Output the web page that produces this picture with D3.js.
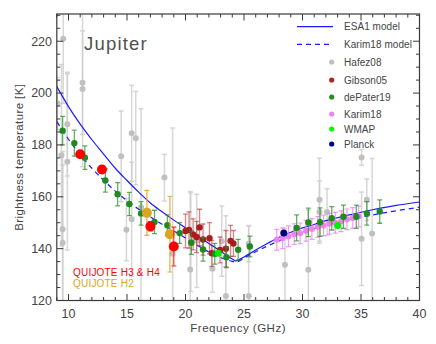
<!DOCTYPE html>
<html><head><meta charset="utf-8">
<script src="https://cdn.jsdelivr.net/npm/d3@7"></script>
<style>
body{margin:0;background:#fff}
svg{display:block}
text{font-family:"Liberation Sans",Arial,sans-serif;fill:#444}
</style>
</head><body>
<svg id="c" width="436" height="344"></svg>
<script>
// ---------- data ----------
const xTicks = [10, 15, 20, 25, 30, 35, 40];
const yTicks = [120, 140, 160, 180, 200, 220];

const modelFreq    = [9,10,11,12,13,14,15,16,17,18,19,20,21,22,23,24,24.3,25,26,27,28,29,30,31,32,34,36,38,40];
const esa1Model    = [202.5,194.8,188,182,176.5,171,166.3,161.8,157.6,154.2,151,148,145,142,139,136,135.3,136.8,139.5,142,144.4,146.3,148,149.3,150.8,153,155,156.7,158];
const karim18Model = [189,182.2,176.2,171,166.4,162.2,158.5,155.2,152.2,149.4,146.8,144.1,141.3,138.7,136.6,135.1,134.8,136.3,138.8,141,143,144.8,146.3,147.7,149,151.2,153,154.6,156];

const hafezFreq = [9.05,9.55,9.4,9.5,9.5,9.9,9.9,11.2,11.2,14.5,14.95,15.4,15.4,15.75,16.2,18.2,18.9,20.4,20.45,20.96,22.3,23.1,23.45,25.4,25.4,28.5,30.5,31.45,31.45,32.1,35.05,35.05,35.5,35.95];
const hafezT    = [196,221,176,147.5,142.3,188,173.5,204,201.6,175.6,147.3,184.5,151.3,182.6,156,167.4,138,132,142.5,143,132.2,142.9,121.7,141.9,121.7,133.8,131.9,158.9,154.1,154.1,175.2,143.8,158.9,145.8];
const hafezErr  = [10,25,35,30,30,20,34,20,30,17.5,12,18.5,22,18,38,9,48.5,30,19,18,9,13.5,31,7,27,14,23,16,12,9,3,18,8,29];

const gibsonFreq = [20.0,20.3,20.65,20.95,21.2,21.5,22.05,22.25,22.95,23.45,23.85,24.1];
const gibsonT    = [146.8,147.2,145.5,144.5,148.2,143.5,144,138.2,139.5,140,143,142];
const gibsonErr  = [6.5,7,6,6,7,6,6,5,5,7,6,5];

const dePaterFreq = [9.5,10.5,11.4,13.15,14.2,15.2,16.2,17.35,18.45,19.5,20.5,21.5,22.5,23.5,24.5,25.5,29.5,30.5,31.5,32.5,33.5,34.6,35.5,36.6];
const dePaterT    = [185.5,180.7,175.1,166.3,161,157.2,153.6,150.3,149,146,142.3,139.7,138,136.7,139.6,140.8,148,150.1,150.2,151.7,152.3,152.3,153.6,154.3];
const dePaterErr  = [5.5,5,4.5,4.5,4.5,4.5,4.5,4.5,4,4,4.5,4.5,4,4,4,4,5,5.5,5.5,4.5,4.5,4.5,4.5,4.5];

const karimFreq = [27.8,28.3,28.8,29.3,29.8,30.3,30.8,31.3,31.8,32.3,32.8,33.3,33.8,34.3,34.8];
const karimT    = [143.4,144.0,144.8,145.6,145.9,146.9,147.6,148.4,148.9,149.6,150.0,150.6,151.3,151.8,152.4];
const karimErr  = [4,4,4,4,4,4,4,4,4,4,4,4,4,4,4];

const wmapFreq = [22.8, 33.0];
const wmapT    = [138.2, 148.9];

const planckFreq = [28.4];
const planckT    = [146];

const quijoteH34Freq = [11.0, 12.86, 17.0, 19.0];
const quijoteH34T    = [176.4, 170.5, 148.6, 140.8];
const quijoteH34Err  = [1, 1.5, 1.8, 7.5];

const quijoteH2Freq = [16.7, 18.67];
const quijoteH2T    = [153.8, 145.6];
const quijoteH2Err  = [8.7, 14.6];

const legendItems = [
  {label: "ESA1  model", type: "solid"},
  {label: "Karim18  model", type: "dash"},
  {label: "Hafez08", color: "#c0c0c0"},
  {label: "Gibson05", color: "#b22222"},
  {label: "dePater19", color: "#228b22"},
  {label: "Karim18", color: "#ee82ee"},
  {label: "WMAP", color: "#00ff00"},
  {label: "Planck", color: "#000080"}
];

// ---------- chart ----------
const svg = d3.select("#c");
const L = 56.8, R = 419.5, T = 14, B = 300.5;
const x = d3.scaleLinear().domain([9, 40]).range([L, R]);
const y = d3.scaleLinear().domain([120, 230.5]).range([B, T]);

svg.append("defs").append("clipPath").attr("id", "clip")
  .append("rect").attr("x", L).attr("y", T).attr("width", R - L).attr("height", B - T);

const plot = svg.append("g").attr("clip-path", "url(#clip)");

function zipSeries(f, t, e) { return f.map((v, i) => ({f: v, t: t[i], e: e ? e[i] : 0})); }

function drawErr(g, data, stroke, opacity, cap, sw) {
  const gg = g.append("g").attr("stroke", stroke).attr("stroke-opacity", opacity).attr("stroke-width", sw || 1.2).attr("fill", "none");
  data.filter(d => d.e > 0).forEach(d => {
    gg.append("line").attr("x1", x(d.f)).attr("x2", x(d.f)).attr("y1", y(d.t - d.e)).attr("y2", y(d.t + d.e));
    gg.append("line").attr("x1", x(d.f) - cap).attr("x2", x(d.f) + cap).attr("y1", y(d.t - d.e)).attr("y2", y(d.t - d.e));
    gg.append("line").attr("x1", x(d.f) - cap).attr("x2", x(d.f) + cap).attr("y1", y(d.t + d.e)).attr("y2", y(d.t + d.e));
  });
}
function drawDots(g, data, fill, r) {
  g.append("g").selectAll("circle").data(data).join("circle")
    .attr("cx", d => x(d.f)).attr("cy", d => y(d.t)).attr("r", r).attr("fill", fill);
}

// Hafez08 (behind)
const hafez = zipSeries(hafezFreq, hafezT, hafezErr);
drawErr(plot, hafez, "#cdcdcd", 0.8, 2.5, 1.5);
drawDots(plot, hafez, "#c0c0c0", 3);

// models
const line = d3.line().x((d, i) => x(modelFreq[i])).y(d => y(d)).curve(d3.curveMonotoneX);
plot.append("path").attr("d", line(esa1Model)).attr("fill", "none").attr("stroke", "#1a1aff").attr("stroke-width", 1.2);
plot.append("path").attr("d", line(karim18Model)).attr("fill", "none").attr("stroke", "#1a1aff").attr("stroke-width", 1.2).attr("stroke-dasharray", "5,4");

// Karim18
const karim = zipSeries(karimFreq, karimT, karimErr);
drawErr(plot, karim, "#ee82ee", 0.8, 2.5, 1.2);
drawDots(plot, karim, "#ee82ee", 3);

// Gibson05
const gib = zipSeries(gibsonFreq, gibsonT, gibsonErr);
drawErr(plot, gib, "#b22222", 0.55, 2.5, 1.3);
drawDots(plot, gib, "#a81c1c", 3.2);

// dePater19
const dp = zipSeries(dePaterFreq, dePaterT, dePaterErr);
drawErr(plot, dp, "#228b22", 0.7, 2.5, 1.3);
drawDots(plot, dp, "#1f8a1f", 3.2);

// WMAP, Planck
drawDots(plot, zipSeries(wmapFreq, wmapT), "#00ee00", 3.5);
drawDots(plot, zipSeries(planckFreq, planckT), "#000080", 3.5);

// QUIJOTE
const qh2 = zipSeries(quijoteH2Freq, quijoteH2T, quijoteH2Err);
drawErr(plot, qh2, "#e0a526", 0.9, 2.5, 1.2);
drawDots(plot, qh2, "#daa520", 5);
const qh34 = zipSeries(quijoteH34Freq, quijoteH34T, quijoteH34Err);
drawErr(plot, qh34, "#ff2020", 0.9, 2.5, 1.2);
drawDots(plot, qh34, "#ff0000", 5);

// ---------- axes box & ticks ----------
const axc = "#3a3a3a";
svg.append("rect").attr("x", L).attr("y", T).attr("width", R - L).attr("height", B - T)
  .attr("fill", "none").attr("stroke", axc).attr("stroke-width", 1.2);

const xMinor = d3.range(9, 40.01, 1);
const yMinor = d3.range(120, 230.01, 5);
const tk = svg.append("g").attr("stroke", axc).attr("stroke-width", 1);
xMinor.forEach(v => {
  const len = xTicks.includes(v) ? 6.5 : 3.5;
  tk.append("line").attr("x1", x(v)).attr("x2", x(v)).attr("y1", B).attr("y2", B - len);
  tk.append("line").attr("x1", x(v)).attr("x2", x(v)).attr("y1", T).attr("y2", T + len);
});
yMinor.forEach(v => {
  const len = yTicks.includes(v) ? 6.5 : 3.5;
  tk.append("line").attr("x1", L).attr("x2", L + len).attr("y1", y(v)).attr("y2", y(v));
  tk.append("line").attr("x1", R).attr("x2", R - len).attr("y1", y(v)).attr("y2", y(v));
});

svg.append("g").selectAll("text").data(xTicks).join("text")
  .attr("x", d => x(d)).attr("y", 318).attr("text-anchor", "middle").attr("font-size", 12.5).text(d => d);
svg.append("g").selectAll("text").data(yTicks).join("text")
  .attr("x", 52).attr("y", d => y(d)).attr("dy", "0.35em").attr("text-anchor", "end").attr("font-size", 12.5).text(d => d);

svg.append("text").attr("x", (L + R) / 2).attr("y", 332).attr("text-anchor", "middle")
  .attr("font-size", 11.5).attr("letter-spacing", 0.5).text("Frequency (GHz)");
svg.append("text").attr("transform", `translate(23,${(T + B) / 2}) rotate(-90)`).attr("text-anchor", "middle")
  .attr("font-size", 11.5).attr("letter-spacing", 0.4).text("Brightness temperature [K]");

svg.append("text").attr("x", 84).attr("y", 50).attr("font-size", 18.5).attr("letter-spacing", 1.2)
  .style("fill", "#505050").text("Jupiter");

svg.append("text").attr("x", 73).attr("y", 275.5).attr("font-size", 10).attr("letter-spacing", 0.2).style("fill", "#ff0000").text("QUIJOTE H3 & H4");
svg.append("text").attr("x", 73).attr("y", 287).attr("font-size", 10).attr("letter-spacing", 0.2).style("fill", "#daa520").text("QUIJOTE H2");

// ---------- legend ----------
const legY = [26.7, 44.3, 62, 80, 97, 114, 129, 144];
const lg = svg.append("g");
legendItems.forEach((it, i) => {
  const yy = legY[i];
  if (it.type === "solid" || it.type === "dash") {
    const l = lg.append("line").attr("x1", 297).attr("x2", 333).attr("y1", yy).attr("y2", yy)
      .attr("stroke", "#1a1aff").attr("stroke-width", 1.2);
    if (it.type === "dash") l.attr("stroke-dasharray", "5,4");
  } else {
    lg.append("circle").attr("cx", 331.7).attr("cy", yy).attr("r", 2.6).attr("fill", it.color);
  }
  lg.append("text").attr("x", 344).attr("y", yy).attr("dy", "0.35em").attr("font-size", 10)
    .attr("letter-spacing", 0.05).text(it.label);
});
</script>
</body></html>
